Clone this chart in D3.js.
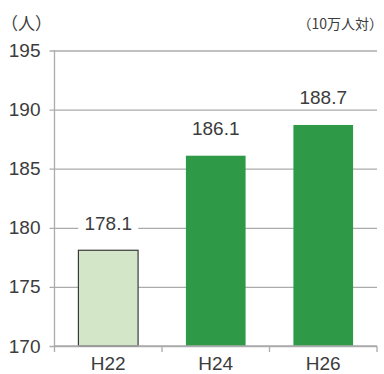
<!DOCTYPE html>
<html><head><meta charset="utf-8">
<script src="https://cdn.jsdelivr.net/npm/d3@7"></script>
<style>html,body{margin:0;padding:0;background:#fff;}svg{display:block;}</style>
</head><body>
<svg id="c" width="384" height="374"></svg>
<script>
const categories = ["H22", "H24", "H26"];
const values = [178.1, 186.1, 188.7];
const yTicks = [170, 175, 180, 185, 190, 195];
const barColors = ["#d3e7c8", "#2e9a48", "#2e9a48"];
const unitLeft = "（人）";
const unitRight = "（10万人対）";

(function () {
const svg = d3.select("#c");
const pLeft = 54.5, pRight = 377, pTop = 50.5, pBottom = 346;
const y = d3.scaleLinear().domain([170, 195]).range([pBottom, pTop]);
const x = d3.scaleBand().domain(categories).range([pLeft, pRight]).paddingInner(0.445).paddingOuter(0.2225);
const font = "'Liberation Sans', Arial, sans-serif";
const grid = "#ababab";
const txt = "#3c3c3c";

// gridlines + y ticks
const yAxis = d3.axisLeft(y).tickValues(yTicks).tickSize(-(pRight - pLeft)).tickSizeOuter(0).tickPadding(14);
const gy = svg.append("g").attr("transform", `translate(${pLeft},0)`).call(yAxis);
gy.select(".domain").remove();
gy.selectAll(".tick line").attr("stroke", grid).attr("stroke-width", 1.3).attr("x1", -5);
gy.selectAll(".tick text").attr("fill", txt).style("font-family", font).style("font-size", "19px");

// bars
svg.append("g").selectAll("rect").data(values).join("rect")
  .attr("x", (d, i) => x(categories[i]))
  .attr("y", d => y(d))
  .attr("width", x.bandwidth())
  .attr("height", d => y(170) - y(d))
  .attr("fill", (d, i) => barColors[i])
  .attr("stroke", (d, i) => i === 0 ? "#3a3a3a" : "none")
  .attr("stroke-width", 1.2);

// y axis line
svg.append("line").attr("x1", pLeft).attr("x2", pLeft).attr("y1", pTop).attr("y2", pBottom)
  .attr("stroke", grid).attr("stroke-width", 1.3);

// x axis
const bounds = [0, 1, 2, 3].map(i => pLeft + (pRight - pLeft) * i / 3);
const gx = svg.append("g");
gx.append("line").attr("x1", pLeft).attr("x2", pRight).attr("y1", pBottom).attr("y2", pBottom)
  .attr("stroke", grid).attr("stroke-width", 1.3);
gx.selectAll("line.t").data(bounds).join("line").attr("class", "t")
  .attr("x1", d => d).attr("x2", d => d).attr("y1", pBottom).attr("y2", pBottom + 6)
  .attr("stroke", grid).attr("stroke-width", 1.3);
gx.selectAll("text").data(categories).join("text")
  .attr("x", d => x(d) + x.bandwidth() / 2).attr("y", 363)
  .attr("text-anchor", "middle").attr("dominant-baseline", "central")
  .attr("fill", txt).style("font-family", font).style("font-size", "19px")
  .text(d => d);

// value labels
const lab = svg.append("g").selectAll("g").data(values).join("g")
  .attr("transform", (d, i) => `translate(${x(categories[i]) + x.bandwidth() / 2},${y(d) - 27})`);
lab.append("rect").attr("x", -30).attr("y", -11).attr("width", 60).attr("height", 22).attr("fill", "#fff");
lab.append("text").attr("text-anchor", "middle").attr("dominant-baseline", "central")
  .attr("fill", txt).style("font-family", font).style("font-size", "19px")
  .text(d => d.toFixed(1));

// unit labels
svg.append("text").attr("x", 1).attr("y", 22).attr("dominant-baseline", "central")
  .attr("fill", txt).style("font-family", "'Noto Sans CJK JP', sans-serif").style("font-size", "17px")
  .text(unitLeft);
svg.append("text").attr("x", 383).attr("y", 23).attr("text-anchor", "end").attr("dominant-baseline", "central")
  .attr("fill", txt).style("font-family", "'Noto Sans CJK JP', sans-serif").style("font-size", "14px")
  .text(unitRight);
})();
</script>
</body></html>
